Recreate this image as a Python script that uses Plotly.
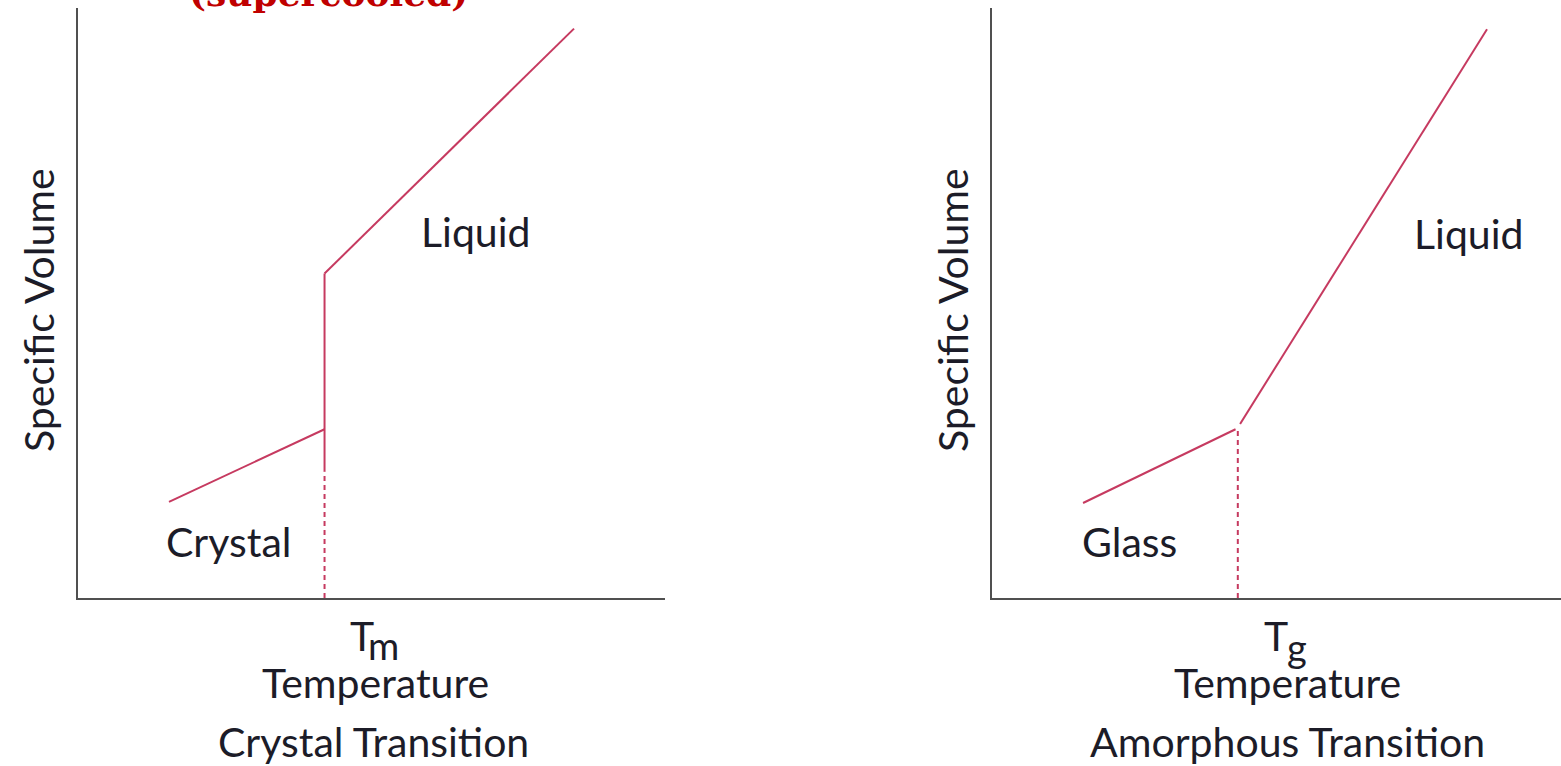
import plotly.graph_objects as go

# Crystal transition panel (arbitrary temperature / specific-volume units)
crystal_x = [1.55, 4.2]
crystal_y = [1.63, 2.86]
melt_jump_x = [4.2, 4.2]
melt_jump_y = [2.15, 5.5]
liquid_left_x = [4.2, 8.45]
liquid_left_y = [5.5, 9.65]
tm_value = 4.2
tm_dash_top = 2.15

# Amorphous transition panel
glass_x = [1.6, 4.28]
glass_y = [1.61, 2.86]
liquid_right_x = [4.36, 8.7]
liquid_right_y = [2.95, 9.64]
tg_value = 4.32
tg_dash_top = 2.9

LINE = "#c63a60"
TEXT = "#1c1c28"
FONT = "Lato"
FS = 41
W, H = 1561, 766

fig = go.Figure()

def seg(x, y, xa, ya, dash="solid"):
    fig.add_trace(go.Scatter(x=x, y=y, mode="lines", xaxis=xa, yaxis=ya,
                             line=dict(color=LINE, width=2, dash=dash),
                             hoverinfo="skip", showlegend=False))

seg(crystal_x, crystal_y, "x", "y")
seg(melt_jump_x, melt_jump_y, "x", "y")
seg(liquid_left_x, liquid_left_y, "x", "y")
seg([tm_value, tm_value], [0, tm_dash_top], "x", "y", dash="5px,4px")

seg(glass_x, glass_y, "x2", "y2")
seg(liquid_right_x, liquid_right_y, "x2", "y2")
seg([tg_value, tg_value], [0, tg_dash_top], "x2", "y2", dash="5px,4px")

y_dom = [(766 - 598) / H, (766 - 8) / H]
axis_common = dict(range=[0, 10], showgrid=False, zeroline=False, showticklabels=False,
                   ticks="", showline=True, linecolor="#505050", linewidth=2, fixedrange=True)

fig.update_layout(
    width=W, height=H,
    margin=dict(l=0, r=0, t=0, b=0),
    paper_bgcolor="white", plot_bgcolor="white",
    xaxis=dict(domain=[78 / W, 665 / W], anchor="y", **axis_common),
    yaxis=dict(domain=y_dom, anchor="x", **axis_common),
    xaxis2=dict(domain=[992 / W, 1.0], anchor="y2", **axis_common),
    yaxis2=dict(domain=y_dom, anchor="x2", **axis_common),
)

def px(xp):
    return xp / W

def py(yp):
    return (H - yp) / H

def label(text, x, y, size=FS, angle=0):
    fig.add_annotation(text=text, x=px(x), y=py(y), xref="paper", yref="paper",
                       showarrow=False, textangle=angle,
                       font=dict(family=FONT, size=size, color=TEXT),
                       xanchor="center", yanchor="middle")

# Left panel labels
label("Liquid", 476, 231)
label("Crystal", 228, 541)
label("Specific Volume", 38, 310, angle=-90)
label("T", 362, 635)
label("m", 383, 645, size=38)
label("Temperature", 375, 682)
label("Crystal Transition", 373, 741)

# Right panel labels
label("Liquid", 1469, 233)
label("Glass", 1129, 541)
label("Specific Volume", 952, 310, angle=-90)
label("T", 1276, 635)
label("g", 1297, 647, size=38)
label("Temperature", 1287, 682)
label("Amorphous Transition", 1287, 741)

# Heading, mostly above the top edge
fig.add_annotation(text="<b>(supercooled)</b>", x=px(328), y=py(10), xref="paper", yref="paper",
                   showarrow=False, xanchor="center", yanchor="bottom", yshift=-6,
                   font=dict(family="DejaVu Serif", size=36, color="#c00000"))

fig.write_html("out.html")
